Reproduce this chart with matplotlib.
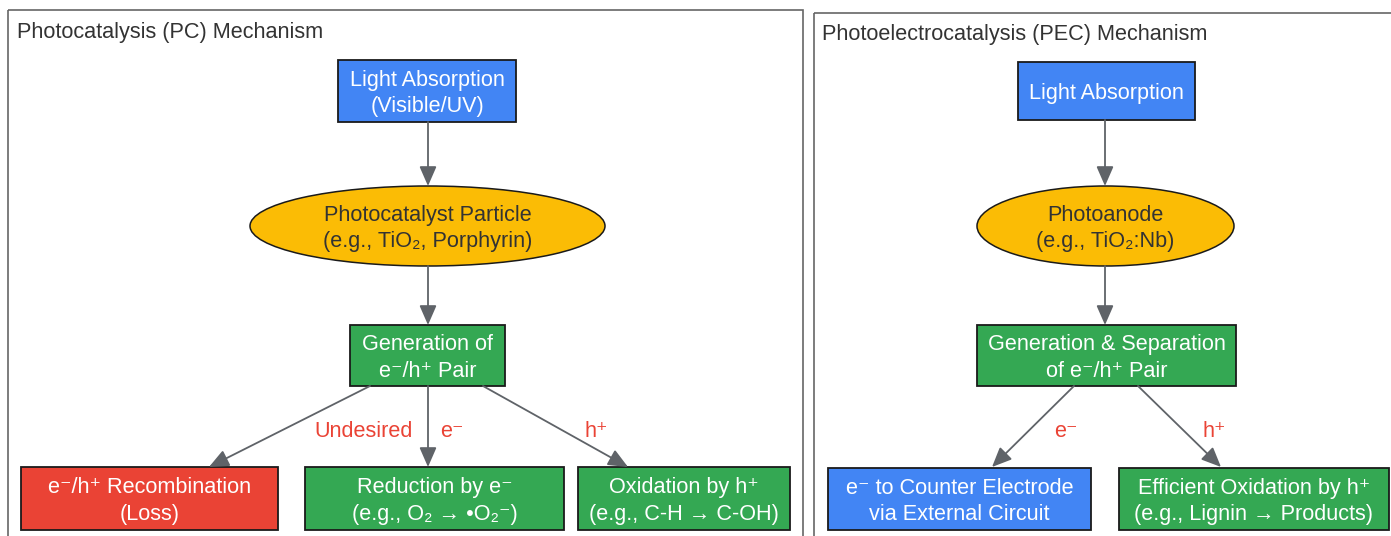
import matplotlib
matplotlib.use("Agg")
import matplotlib.pyplot as plt
from matplotlib.patches import Rectangle, Ellipse, FancyArrowPatch

plt.rcParams['font.family'] = ['Liberation Sans', 'DejaVu Sans']

# colours (google palette as in the source diagram)
BLUE = "#4285F4"
YELLOW = "#FBBC05"
GREEN = "#34A853"
RED = "#EA4335"
EDGE = "#5F6368"
TXT = "#333333"
FS = 15.6
DY = 2.5  # small downward nudge so text sits like graphviz text

# cluster titles
cluster_titles = ["Photocatalysis (PC) Mechanism", "Photoelectrocatalysis (PEC) Mechanism"]

# node labels
pc_labels = ["Light Absorption\n(Visible/UV)",
             "Photocatalyst Particle\n(e.g., TiO₂, Porphyrin)",
             "Generation of\ne⁻/h⁺ Pair",
             "e⁻/h⁺ Recombination\n(Loss)",
             "Reduction by e⁻\n(e.g., O₂ → •O₂⁻)",
             "Oxidation by h⁺\n(e.g., C-H → C-OH)"]
pc_fill = [BLUE, YELLOW, GREEN, RED, GREEN, GREEN]
pc_shape = ["box", "ellipse", "box", "box", "box", "box"]
pc_edges = [(0, 1, ""), (1, 2, ""), (2, 3, "Undesired"), (2, 4, "e⁻"), (2, 5, "h⁺")]

pec_labels = ["Light Absorption",
              "Photoanode\n(e.g., TiO₂:Nb)",
              "Generation & Separation\nof e⁻/h⁺ Pair",
              "e⁻ to Counter Electrode\nvia External Circuit",
              "Efficient Oxidation by h⁺\n(e.g., Lignin → Products)"]
pec_fill = [BLUE, YELLOW, GREEN, BLUE, GREEN]
pec_shape = ["box", "ellipse", "box", "box", "box"]
pec_edges = [(0, 1, ""), (1, 2, ""), (2, 3, "e⁻"), (2, 4, "h⁺")]

# layout in pixels: (x0, y0, x1, y1)
pc_pos = [(338, 60, 516, 122), (250, 186, 605, 266), (350, 325, 505, 386),
          (21, 467, 278, 530), (305, 467, 564, 530), (578, 467, 790, 530)]
pc_ports = {(0, 1): ((428, 122), (428, 186)), (1, 2): ((428, 266), (428, 325)),
            (2, 3): ((370, 386), (209, 467)), (2, 4): ((428, 386), (428, 467)),
            (2, 5): ((483, 386), (628, 467))}
pc_lab_pos = {(2, 3): (364, 429), (2, 4): (452, 429), (2, 5): (596, 429)}

pec_pos = [(1018, 62, 1195, 120), (977, 186, 1234, 266), (977, 325, 1236, 386),
           (828, 468, 1091, 530), (1119, 468, 1389, 530)]
pec_ports = {(0, 1): ((1105, 120), (1105, 186)), (1, 2): ((1105, 266), (1105, 325)),
             (2, 3): ((1074, 386), (992, 467)), (2, 4): ((1138, 386), (1221, 467))}
pec_lab_pos = {(2, 3): (1066, 429), (2, 4): (1214, 429)}

fig = plt.figure(figsize=(13.91, 5.36), dpi=100)
ax = fig.add_axes([0, 0, 1, 1])
ax.set_xlim(0, 1391)
ax.set_ylim(536, 0)
ax.axis("off")

# cluster frames
ax.add_patch(Rectangle((8, 10), 795, 540, fill=False, ec="#666666", lw=1.2))
ax.add_patch(Rectangle((814, 13), 600, 540, fill=False, ec="#666666", lw=1.2))
ax.text(17, 30 + DY, cluster_titles[0], fontsize=FS, color=TXT, va="center", ha="left")
ax.text(822, 32 + DY, cluster_titles[1], fontsize=FS, color=TXT, va="center", ha="left")


def draw(labels, fills, shapes, pos, edges, ports, lab_pos):
    for lab, fc, sh, (x0, y0, x1, y1) in zip(labels, fills, shapes, pos):
        if sh == "box":
            ax.add_patch(Rectangle((x0, y0), x1 - x0, y1 - y0, fc=fc, ec="#1a1a1a", lw=1.3))
            tc = "white"
        else:
            ax.add_patch(Ellipse(((x0 + x1) / 2, (y0 + y1) / 2), x1 - x0, y1 - y0,
                                 fc=fc, ec="#1a1a1a", lw=1.1))
            tc = TXT
        ax.text((x0 + x1) / 2, (y0 + y1) / 2 + DY, lab, fontsize=FS, color=tc,
                ha="center", va="center", linespacing=1.33)
    for a, b, lab in edges:
        p0, p1 = ports[(a, b)]
        ax.add_patch(FancyArrowPatch(p0, p1, arrowstyle="-|>,head_length=0.8,head_width=0.35",
                                     mutation_scale=15, color=EDGE, lw=1.3,
                                     shrinkA=0, shrinkB=0))
        if lab:
            lx, ly = lab_pos[(a, b)]
            ax.text(lx, ly + DY, lab, fontsize=FS, color=RED, ha="center", va="center")


draw(pc_labels, pc_fill, pc_shape, pc_pos, pc_edges, pc_ports, pc_lab_pos)
draw(pec_labels, pec_fill, pec_shape, pec_pos, pec_edges, pec_ports, pec_lab_pos)

fig.savefig("out.png", dpi=100)
